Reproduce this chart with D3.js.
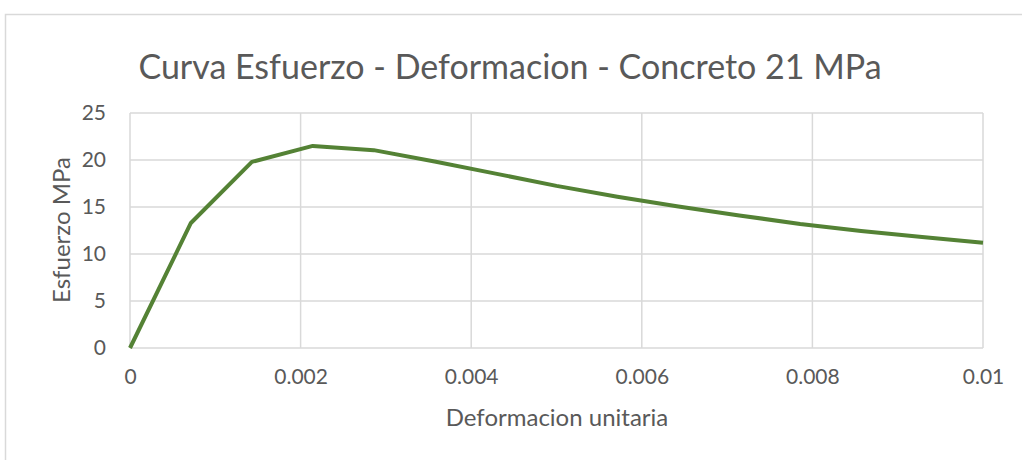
<!DOCTYPE html>
<html>
<head>
<meta charset="utf-8">
<script src="https://cdn.jsdelivr.net/npm/d3@7"></script>
<style>
  body { margin: 0; background: #fff; }
  svg text { font-family: Lato, "Open Sans", sans-serif; fill: #595959; }
</style>
</head>
<body>
<svg id="chart"></svg>
<script>
// strain (deformacion unitaria) and stress (MPa)
let strain = [0, 0.000714, 0.001429, 0.002143, 0.002857, 0.003571, 0.004286, 0.005,
              0.005714, 0.006429, 0.007143, 0.007857, 0.008571, 0.009286, 0.01];
let stress = [0, 13.3, 19.8, 21.5, 21.05, 19.85, 18.55, 17.25,
              16.1, 15.05, 14.1, 13.2, 12.45, 11.8, 11.2];

let xTicks = [0, 0.002, 0.004, 0.006, 0.008, 0.01];
let yTicks = [0, 5, 10, 15, 20, 25];

let titleText = "Curva Esfuerzo - Deformacion - Concreto 21 MPa";
let xTitle = "Deformacion unitaria";
let yTitle = "Esfuerzo MPa";

var width = 1022, height = 460;
var plot = {left: 130, right: 983, top: 113, bottom: 348};

var svg = d3.select("#chart")
    .attr("width", width)
    .attr("height", height);

// outer chart frame
svg.append("path")
  .attr("d", "M5.5," + height + " V14.5 H" + width)
  .attr("fill", "none")
  .attr("stroke", "#d9d9d9")
  .attr("stroke-width", 1.5);

var x = d3.scaleLinear()
    .domain([0, 0.01])
    .range([plot.left, plot.right]);

var y = d3.scaleLinear()
    .domain([0, 25])
    .range([plot.bottom, plot.top]);

//gridlines
svg.append("g")
  .selectAll("line")
  .data(yTicks)
  .enter().append("line")
  .attr("x1", plot.left).attr("x2", plot.right)
  .attr("y1", function(d) { return y(d); })
  .attr("y2", function(d) { return y(d); })
  .attr("stroke", "#d9d9d9")
  .attr("stroke-width", 1.5);

svg.append("g")
  .selectAll("line")
  .data(xTicks)
  .enter().append("line")
  .attr("x1", function(d) { return x(d); })
  .attr("x2", function(d) { return x(d); })
  .attr("y1", plot.top).attr("y2", plot.bottom)
  .attr("stroke", "#d9d9d9")
  .attr("stroke-width", 1.5);

// axes, only used for the labels
var xAxis = d3.axisBottom(x).tickValues(xTicks).tickSize(0).tickPadding(21)
    .tickFormat(function(d) { return d3.format("")(+d.toFixed(3)); });
var yAxis = d3.axisLeft(y).tickValues(yTicks).tickSize(0).tickPadding(24);

svg.append("g")
  .attr("class", "x axis")
  .attr("transform", "translate(0," + plot.bottom + ")")
  .call(xAxis)
  .call(function(g) { g.select(".domain").remove(); })
  .selectAll("text")
  .style("font-size", "21px")
  .style("fill", "#595959");

svg.append("g")
  .attr("class", "y axis")
  .attr("transform", "translate(" + plot.left + ",0)")
  .call(yAxis)
  .call(function(g) { g.select(".domain").remove(); })
  .selectAll("text")
  .style("font-size", "21px")
  .style("fill", "#595959");

// the curve
var line = d3.line()
    .x(function(d, i) { return x(strain[i]); })
    .y(function(d) { return y(d); });

svg.append("path")
  .datum(stress)
  .attr("d", line)
  .attr("fill", "none")
  .attr("stroke", "#548235")
  .attr("stroke-width", 4)
  .attr("stroke-linejoin", "round");

// titles
svg.append("text")
  .attr("x", 510)
  .attr("y", 79)
  .attr("text-anchor", "middle")
  .style("font-size", "34px")
  .text(titleText);

svg.append("text")
  .attr("x", 557)
  .attr("y", 426)
  .attr("text-anchor", "middle")
  .style("font-size", "24px")
  .text(xTitle);

svg.append("text")
  .attr("transform", "translate(70,230) rotate(-90)")
  .attr("text-anchor", "middle")
  .style("font-size", "24px")
  .text(yTitle);
</script>
</body>
</html>
